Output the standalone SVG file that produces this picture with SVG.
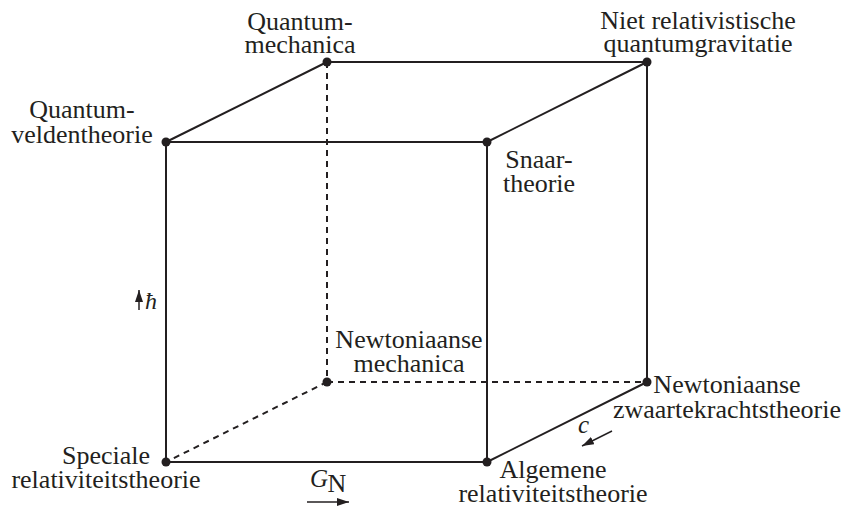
<svg xmlns="http://www.w3.org/2000/svg" width="846" height="510" viewBox="0 0 846 510">
<defs>
<marker id="ah" viewBox="0 0 12 8" refX="12" refY="4" markerWidth="12" markerHeight="8" markerUnits="userSpaceOnUse" orient="auto">
<path d="M0,0 L12,4 L0,8 Z" fill="#231f20"/>
</marker>
<style>
.t{font-family:"Liberation Serif","Times New Roman",serif;font-size:26px;fill:#231f20;text-anchor:middle}
.i{font-family:"Liberation Serif","Times New Roman",serif;font-style:italic;fill:#231f20}
.s{stroke:#231f20;stroke-width:2;fill:none}
.d{stroke:#231f20;stroke-width:2;fill:none;stroke-dasharray:6 5}
.a{stroke:#231f20;stroke-width:1.5;fill:none;marker-end:url(#ah)}
.dot{fill:#231f20}
</style>
</defs>
<rect width="846" height="510" fill="#ffffff"/>
<g id="connectors">
<line class="d" x1="327" y1="62" x2="327" y2="382"/>
<line class="d" x1="327" y1="382" x2="166" y2="462"/>
<line class="d" x1="327" y1="382" x2="647" y2="382"/>
<line class="s" x1="166" y1="142" x2="487" y2="142"/>
<line class="s" x1="166" y1="142" x2="327" y2="62"/>
<line class="s" x1="327" y1="62" x2="647" y2="62"/>
<line class="s" x1="487" y1="142" x2="647" y2="62"/>
<line class="s" x1="166" y1="142" x2="166" y2="462"/>
<line class="s" x1="487" y1="142" x2="487" y2="462"/>
<line class="s" x1="647" y1="62" x2="647" y2="382"/>
<line class="s" x1="166" y1="462" x2="487" y2="462"/>
<line class="s" x1="487" y1="462" x2="647" y2="382"/>
</g>
<g id="n-quantummechanica">
<circle class="dot" cx="327" cy="62" r="4.5"/>
<text class="t" x="300" y="30">Quantum-</text>
<text class="t" x="300" y="53">mechanica</text>
</g>
<g id="n-nietrelativistische">
<circle class="dot" cx="647" cy="62" r="4.5"/>
<text class="t" x="698" y="29">Niet relativistische</text>
<text class="t" x="698" y="52">quantumgravitatie</text>
</g>
<g id="n-quantumveldentheorie">
<circle class="dot" cx="166" cy="142" r="4.5"/>
<text class="t" x="82" y="118">Quantum-</text>
<text class="t" x="82" y="143">veldentheorie</text>
</g>
<g id="n-snaartheorie">
<circle class="dot" cx="487" cy="142" r="4.5"/>
<text class="t" x="539" y="168">Snaar-</text>
<text class="t" x="539" y="192">theorie</text>
</g>
<g id="n-newtonmechanica">
<circle class="dot" cx="327" cy="382" r="4.5"/>
<text class="t" x="409" y="348">Newtoniaanse</text>
<text class="t" x="409" y="372">mechanica</text>
</g>
<g id="n-newtonzwaartekracht">
<circle class="dot" cx="647" cy="382" r="4.5"/>
<text class="t" x="727" y="393">Newtoniaanse</text>
<text class="t" x="727" y="418">zwaartekrachtstheorie</text>
</g>
<g id="n-speciale">
<circle class="dot" cx="166" cy="462" r="4.5"/>
<text class="t" x="106" y="464">Speciale</text>
<text class="t" x="106" y="488">relativiteitstheorie</text>
</g>
<g id="n-algemene">
<circle class="dot" cx="487" cy="462" r="4.5"/>
<text class="t" x="553" y="478">Algemene</text>
<text class="t" x="553" y="502">relativiteitstheorie</text>
</g>
<g id="axis-hbar">
<line class="a" x1="139" y1="310" x2="139" y2="290"/>
<text class="i" x="145" y="309" font-size="24">ħ</text>
</g>
<g id="axis-gn">
<text class="i" x="310" y="487" font-size="25">G</text>
<text class="t" x="337" y="492" font-size="18">N</text>
<line class="a" x1="307" y1="502" x2="349" y2="502"/>
</g>
<g id="axis-c">
<text class="i" x="578" y="433" font-size="25">c</text>
<line class="a" x1="612" y1="431" x2="582" y2="446"/>
</g>
</svg>
